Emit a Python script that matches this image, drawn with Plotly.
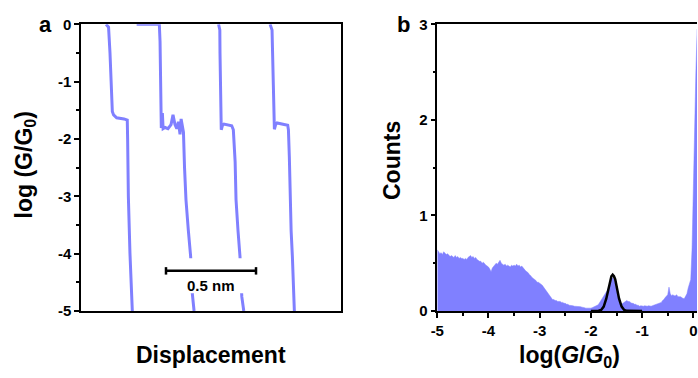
import numpy as np
import plotly.graph_objects as go

# ---------------- Panel a: conductance traces (x in nm, y = log(G/G0)) -------------
trace1_x = [0.139, 0.153, 0.161, 0.167, 0.169, 0.174, 0.181, 0.198, 0.239, 0.257, 0.259, 0.263, 0.272, 0.285]
trace1_y = [0.0, -0.05, -0.5, -1.0, -1.3, -1.52, -1.58, -1.63, -1.65, -1.67, -2.0, -3.0, -4.0, -5.0]

trace2_x = [0.309, 0.435, 0.439, 0.441, 0.443, 0.446, 0.452, 0.456, 0.467, 0.483, 0.500, 0.511,
            0.522, 0.532, 0.541, 0.550, 0.556, 0.564, 0.569, 0.575, 0.583, 0.596, 0.609, 0.618, 0.628]
trace2_y = [0.0, 0.0, -0.3, -1.0, -1.49, -1.81, -1.55, -1.82, -1.80, -1.82, -1.75, -1.58,
            -1.75, -1.82, -1.70, -1.92, -1.65, -1.78, -1.88, -2.5, -3.06, -3.59, -4.05, -4.69, -5.0]

trace3_x = [0.764, 0.771, 0.772, 0.775, 0.778, 0.779, 0.786, 0.794, 0.837, 0.846, 0.856, 0.861, 0.872, 0.883, 0.893, 0.904]
trace3_y = [0.0, -0.1, -0.5, -1.0, -1.5, -1.84, -1.76, -1.74, -1.77, -1.84, -2.4, -3.06, -3.6, -4.05, -4.75, -5.0]

trace4_x = [1.050, 1.061, 1.064, 1.067, 1.072, 1.074, 1.081, 1.089, 1.148, 1.152, 1.157, 1.161, 1.167, 1.174, 1.181, 1.185]
trace4_y = [0.0, -0.1, -0.5, -1.0, -1.5, -1.83, -1.75, -1.72, -1.76, -1.84, -2.3, -3.06, -3.6, -4.05, -4.6, -5.0]

scalebar_x = [0.472, 0.972]   # 0.5 nm
scalebar_y = -4.3
scalebar_label = "0.5 nm"

a_yticks = [0, -1, -2, -3, -4, -5]
a_yticklabels = ["0", "-1", "-2", "-3", "-4", "-5"]

# ---------------- Panel b: histogram (bins of 0.025 in log(G/G0)) -----------------
hist_x = np.round(-5.0 + 0.025 * np.arange(204), 3)
hist_counts = [
    0.64, 0.62, 0.60, 0.61, 0.59, 0.62, 0.60, 0.59, 0.60, 0.58, 0.57, 0.58, 0.57, 0.56, 0.58, 0.56, 0.57, 0.55, 0.56, 0.55,
    0.55, 0.54, 0.55, 0.54, 0.56, 0.57, 0.58, 0.56, 0.57, 0.55, 0.56, 0.54, 0.53, 0.52, 0.52, 0.50, 0.51, 0.49, 0.48, 0.47,
    0.46, 0.44, 0.41, 0.45, 0.47, 0.48, 0.50, 0.49, 0.51, 0.53, 0.50, 0.49, 0.48, 0.49, 0.47, 0.48, 0.47, 0.46, 0.48, 0.47,
    0.48, 0.47, 0.49, 0.47, 0.48, 0.46, 0.47, 0.45, 0.44, 0.42, 0.41, 0.40, 0.38, 0.37, 0.35, 0.34, 0.33, 0.32, 0.30, 0.30,
    0.29, 0.28, 0.27, 0.25, 0.23, 0.21, 0.19, 0.17, 0.15, 0.14, 0.12, 0.12, 0.11, 0.11, 0.10, 0.10, 0.10, 0.09, 0.09, 0.08,
    0.08, 0.07, 0.07, 0.06, 0.06, 0.06, 0.055, 0.05, 0.05, 0.05, 0.045, 0.05, 0.045, 0.04, 0.04, 0.035, 0.03, 0.03, 0.025, 0.025,
    0.03, 0.035, 0.04, 0.045, 0.05, 0.06, 0.07, 0.09, 0.11, 0.13, 0.15, 0.17, 0.19, 0.22, 0.26, 0.30, 0.33, 0.35, 0.33, 0.28,
    0.22, 0.15, 0.10, 0.07, 0.07, 0.08, 0.09, 0.10, 0.11, 0.10, 0.10, 0.09, 0.08, 0.08, 0.07, 0.07, 0.06, 0.06, 0.05, 0.055,
    0.05, 0.05, 0.055, 0.05, 0.05, 0.055, 0.05, 0.05, 0.055, 0.06, 0.06, 0.065, 0.07, 0.075, 0.08, 0.09, 0.11, 0.12, 0.14, 0.16,
    0.17, 0.25, 0.18, 0.16, 0.17, 0.16, 0.16, 0.17, 0.15, 0.15, 0.15, 0.14, 0.13, 0.13, 0.15, 0.18, 0.24, 0.30, 0.33, 0.65,
    1.35, 2.10, 2.50, 2.95,
]
b_xticks = [-5, -4, -3, -2, -1, 0]
b_xticklabels = ["-5", "-4", "-3", "-2", "-1", "0"]
b_yticks = [0, 1, 2, 3]

# Gaussian fit curve
fit_x = [-2.0, -1.9, -1.85, -1.8, -1.75, -1.7, -1.675, -1.65, -1.625, -1.6, -1.575, -1.55, -1.525,
         -1.5, -1.475, -1.45, -1.4, -1.35, -1.3, -1.2, -1.0]
fit_y = [0.0, 0.0, 0.003, 0.011, 0.046, 0.129, 0.19, 0.258, 0.33, 0.364, 0.38, 0.364, 0.33,
         0.258, 0.19, 0.129, 0.046, 0.011, 0.002, 0.0, 0.0]

BLUE = "#8080ff"
FONT = "Liberation Sans, Arial, sans-serif"

fig = go.Figure()
for tx, ty in [(trace1_x, trace1_y), (trace2_x, trace2_y), (trace3_x, trace3_y), (trace4_x, trace4_y)]:
    fig.add_trace(go.Scatter(x=tx, y=ty, mode="lines", line=dict(color=BLUE, width=3),
                             xaxis="x", yaxis="y", showlegend=False, hoverinfo="skip"))

fig.add_trace(go.Scatter(x=hist_x, y=hist_counts, mode="lines", fill="tozeroy",
                         fillcolor=BLUE, line=dict(color=BLUE, width=0.5),
                         xaxis="x2", yaxis="y2", showlegend=False))
fig.add_trace(go.Scatter(x=fit_x, y=fit_y, mode="lines", line=dict(color="black", width=2.5),
                         xaxis="x2", yaxis="y2", showlegend=False))

tickfont = dict(family=FONT, size=15, color="black", weight="bold")
axcommon = dict(showgrid=False, zeroline=False, showline=True, linecolor="black", linewidth=1.5,
                automargin=False)

fig.update_layout(
    template="none",
    width=698, height=378, autosize=False,
    margin=dict(l=0, r=0, t=0, b=0, pad=0),
    plot_bgcolor="white", paper_bgcolor="white",
    xaxis=dict(domain=[0.11605, 0.48854], range=[0, 1.444], showticklabels=False, ticks="",
               mirror=True, anchor="y", **axcommon),
    yaxis=dict(domain=[0.17725, 0.93571], range=[-5, 0], tickvals=a_yticks, ticktext=a_yticklabels,
               ticks="outside", ticklen=5, tickwidth=1.5, tickcolor="black", tickfont=tickfont,
               minor=dict(tickvals=[-0.5, -1.5, -2.5, -3.5, -4.5], ticks="outside", ticklen=3,
                          tickwidth=1.5, tickcolor="black"),
               mirror=True, anchor="x", **axcommon),
    xaxis2=dict(domain=[0.62650, 0.99857], range=[-5, 0.072], tickvals=b_xticks,
                ticktext=b_xticklabels,
                ticks="outside", ticklen=5, tickwidth=1.5, tickcolor="black", tickfont=tickfont,
                minor=dict(tickvals=[-4.5, -3.5, -2.5, -1.5, -0.5], ticks="outside", ticklen=3,
                           tickwidth=1.5, tickcolor="black"),
                mirror=True, anchor="y2", **axcommon),
    yaxis2=dict(domain=[0.17725, 0.93571], range=[0, 3], tickvals=b_yticks,
                ticktext=[str(v) for v in b_yticks],
                ticks="outside", ticklen=5, tickwidth=1.5, tickcolor="black", tickfont=tickfont,
                minor=dict(tickvals=[0.5, 1.5, 2.5], ticks="outside", ticklen=3,
                           tickwidth=1.5, tickcolor="black"),
                anchor="x2", **axcommon),
)

# Scale bar (white backing, bar, end caps)
fig.add_shape(type="rect", xref="x", yref="y", x0=scalebar_x[0] - 0.005, x1=scalebar_x[1] + 0.005,
              y0=-4.69, y1=-4.08, fillcolor="white", line=dict(width=0), layer="above")
fig.add_shape(type="line", xref="x", yref="y", x0=scalebar_x[0], x1=scalebar_x[1],
              y0=scalebar_y, y1=scalebar_y, line=dict(color="black", width=2.5), layer="above")
for sx in scalebar_x:
    fig.add_shape(type="line", xref="x", yref="y", x0=sx, x1=sx, y0=scalebar_y - 0.065,
                  y1=scalebar_y + 0.065, line=dict(color="black", width=2.5), layer="above")
fig.add_annotation(x=sum(scalebar_x) / 2, y=-4.55, xref="x", yref="y", text=scalebar_label,
                   showarrow=False, font=dict(family=FONT, size=15, color="black", weight="bold"))

titlefont = dict(family=FONT, size=23, color="black", weight="bold")
annots = [
    ("a", 0.0659, 0.9365, 0, dict(family=FONT, size=22, color="black", weight="bold")),
    ("b", 0.5774, 0.9365, 0, dict(family=FONT, size=22, color="black", weight="bold")),
    ("log (G/G<sub>0</sub>)", 0.0358, 0.5650, -90, titlefont),
    ("Displacement", 0.3016, 0.0608, 0, titlefont),
    ("Counts", 0.5616, 0.5767, -90, titlefont),
    ("log(<i>G</i>/<i>G</i><sub>0</sub>)", 0.8152, 0.0556, 0, titlefont),
]
for text, ax, ay, ang, f in annots:
    fig.add_annotation(x=ax, y=ay, xref="paper", yref="paper", text=text, showarrow=False,
                       textangle=ang, font=f, xanchor="center", yanchor="middle")

fig.write_html("out.html", config={"displayModeBar": False},
               post_script="document.body.style.margin='0px';document.body.style.overflow='hidden';")
